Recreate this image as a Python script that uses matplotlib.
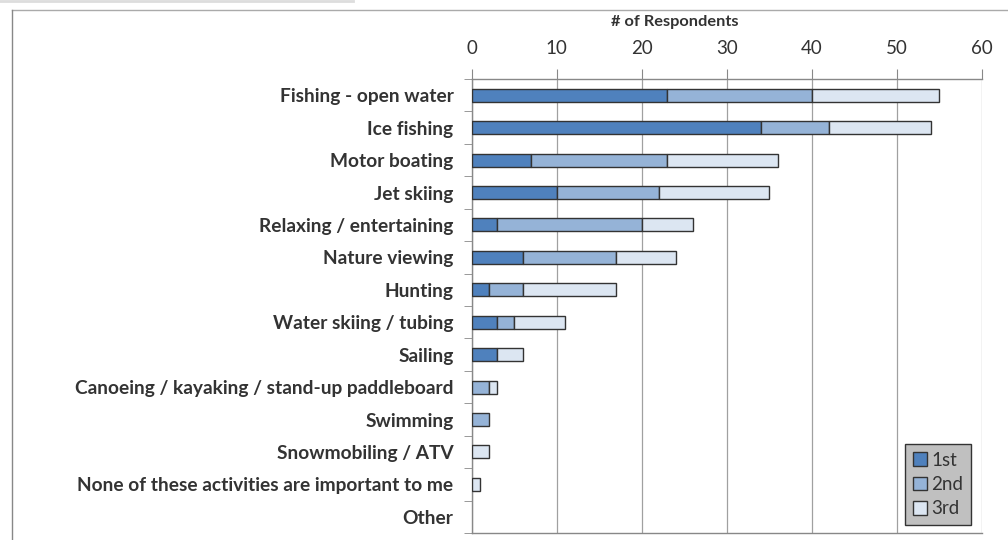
import matplotlib
matplotlib.use("Agg")
import matplotlib.pyplot as plt
from matplotlib.lines import Line2D
import numpy as np

plt.rcParams['font.family'] = ['Lato', 'DejaVu Sans']

# survey data
activities = ['Fishing - open water', 'Ice fishing', 'Motor boating', 'Jet skiing',
              'Relaxing / entertaining', 'Nature viewing', 'Hunting',
              'Water skiing / tubing', 'Sailing',
              'Canoeing / kayaking / stand-up paddleboard', 'Swimming',
              'Snowmobiling / ATV', 'None of these activities are important to me', 'Other']
first = [23, 34, 7, 10, 3, 6, 2, 3, 3, 0, 0, 0, 0, 0]
second = [17, 8, 16, 12, 17, 11, 4, 2, 0, 2, 2, 0, 0, 0]
third = [15, 12, 13, 13, 6, 7, 11, 6, 3, 1, 0, 2, 1, 0]
series_names = ['1st', '2nd', '3rd']
xticks = [0, 10, 20, 30, 40, 50, 60]

W, H = 1008, 540
fig = plt.figure(figsize=(W / 100, H / 100), dpi=100)
ax = fig.add_axes([471.5 / W, 1 - 533 / H, (982 - 471.5) / W, (533 - 79) / H])

colors = ['#4F81BD', '#95B3D7', '#DCE6F2']
y = np.arange(len(activities))
left = np.zeros(len(activities))
for vals, c, name in zip([first, second, third], colors, series_names):
    lw = [1.0 if v > 0 else 0 for v in vals]  # no outline on empty segments
    ax.barh(y, vals, left=left, height=0.4, color=c, edgecolor='#333333',
            linewidth=lw, label=name, zorder=3)
    left = left + np.array(vals)

ax.set_ylim(len(activities) - 0.5, -0.5)
ax.set_xlim(0, 60)
ax.set_xticks(xticks)
ax.xaxis.tick_top()
ax.xaxis.set_label_position('top')
ax.tick_params(axis='x', length=7, color='#888888', labelsize=13.5, labelcolor='#333333', pad=9)
ax.grid(axis='x', color='#a0a0a0', linewidth=0.9, zorder=0)

ax.set_yticks(y)
ax.set_yticklabels(activities, fontweight='bold', fontsize=13.8, color='#333333')
ax.set_yticks(np.arange(len(activities) + 1) - 0.5, minor=True)
ax.tick_params(axis='y', which='major', length=0, pad=13)
ax.tick_params(axis='y', which='minor', length=6, color='#888888')

for s in ['left', 'top', 'bottom']:
    ax.spines[s].set_color('#888888')
    ax.spines[s].set_linewidth(1.0)
ax.spines['right'].set_visible(False)

fig.text(675 / W, 1 - 22 / H, '# of Respondents', ha='center', va='center',
         fontweight='bold', fontsize=11.8, color='#333333')

leg = ax.legend(loc='lower right', bbox_to_anchor=(971 / W, 1 - 525 / H),
                bbox_transform=fig.transFigure, fontsize=13.5, frameon=True,
                fancybox=False, handlelength=0.75, handleheight=0.75,
                handletextpad=0.25, borderpad=0.4, labelspacing=0.4,
                labelcolor='#333333', borderaxespad=0)
leg.get_frame().set_facecolor('#c0c0c0')
leg.get_frame().set_edgecolor('#333333')
leg.get_frame().set_linewidth(1.0)
leg.get_frame().set_alpha(1)

# outer frame and top strip
fig.add_artist(Line2D([0, 353 / W], [1 - 1 / H, 1 - 1 / H], color='#dddddd', linewidth=2))
fig.add_artist(Line2D([12 / W, 1], [1 - 10 / H, 1 - 10 / H], color='#aaaaaa', linewidth=1))
fig.add_artist(Line2D([12 / W, 12 / W], [0, 1 - 10 / H], color='#888888', linewidth=1))

fig.savefig('out.png', dpi=100)
